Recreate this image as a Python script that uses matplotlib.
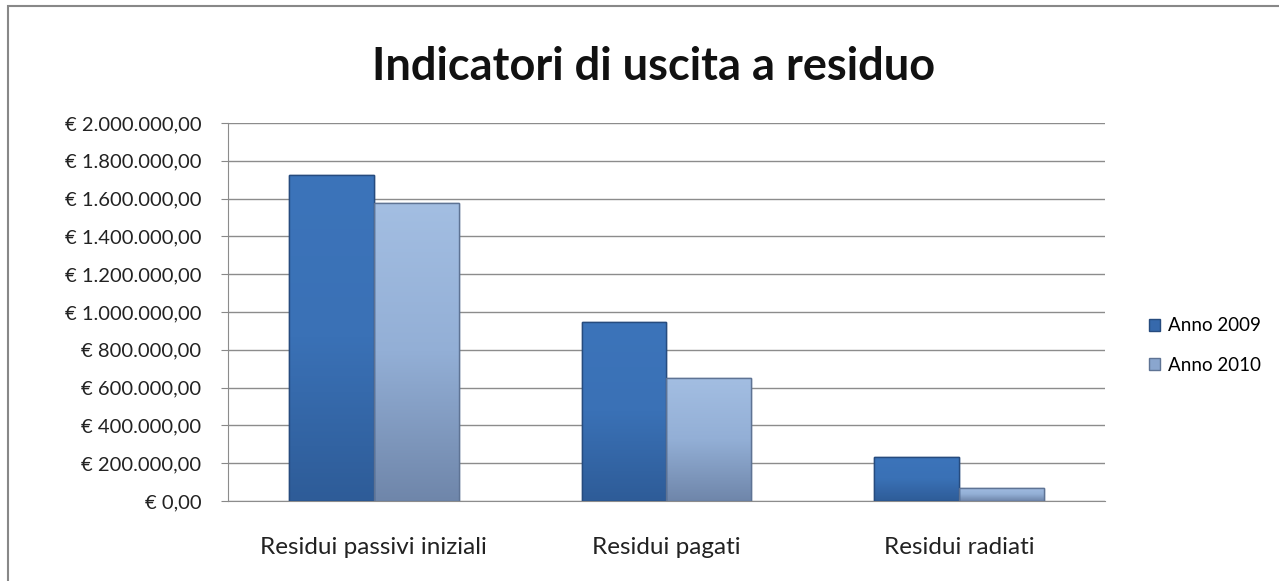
import numpy as np
import matplotlib
matplotlib.use("Agg")
import matplotlib.pyplot as plt
from matplotlib.patches import Rectangle
from matplotlib.colors import LinearSegmentedColormap

# dati
categorie = ['Residui passivi iniziali', 'Residui pagati', 'Residui radiati']
anno_2009 = [1725000, 947000, 233000]
anno_2010 = [1577000, 651000, 69000]
serie = ['Anno 2009', 'Anno 2010']

plt.rcParams['font.family'] = ['Lato', 'DejaVu Sans']

fig = plt.figure(figsize=(12.79, 5.81), dpi=100)
ax = fig.add_axes([0.178, 0.1377, 0.686, 0.6506])

x = np.arange(len(categorie))
w = 0.29
b1 = ax.bar(x - w / 2, anno_2009, w, color='#3669AC', edgecolor='#264B7E', linewidth=1.0, label=serie[0], zorder=3)
b2 = ax.bar(x + w / 2, anno_2010, w, color='#8AA6CE', edgecolor='#5E7394', linewidth=1.0, label=serie[1], zorder=3)

# sfumatura verticale dentro le barre
cm1 = LinearSegmentedColormap.from_list('c1', ['#2E5C98', '#3A71B6', '#3C74BA'])
cm2 = LinearSegmentedColormap.from_list('c2', ['#6F86AA', '#93AFD6', '#A3BEE2'])
grad = np.linspace(0, 1, 256).reshape(-1, 1)
for bars, cm in [(b1, cm1), (b2, cm2)]:
    for r in bars:
        x0, y0 = r.get_x(), r.get_y()
        im = ax.imshow(grad, cmap=cm, origin='lower', aspect='auto',
                       extent=[x0, x0 + r.get_width(), y0, y0 + r.get_height()], zorder=3.5)
        im.set_clip_path(r)
        ax.add_patch(Rectangle((x0, y0), r.get_width(), r.get_height(), fill=False,
                               edgecolor=r.get_edgecolor(), linewidth=1.0, zorder=4))

ax.set_xlim(-0.5, 2.5)
ax.set_ylim(0, 2000000)
ax.set_yticks(np.arange(0, 2000001, 200000))

def euro(v):
    s = f"{v:,.2f}".replace(',', 'X').replace('.', ',').replace('X', '.')
    return "€ " + s

ax.set_yticklabels([euro(v) for v in ax.get_yticks()], fontsize=14.5, color='#222222')
ax.set_xticks(x)
ax.set_xticklabels(categorie, fontsize=17.5, color='#222222')
ax.tick_params(axis='x', length=0, pad=26)
ax.tick_params(axis='y', length=5, color='#888888', pad=14)

ax.grid(axis='y', color='#8C8C8C', linewidth=1.0, zorder=0)
for s in ['top', 'right']:
    ax.spines[s].set_visible(False)
ax.spines['left'].set_color('#8C8C8C')
ax.spines['bottom'].set_color('#8C8C8C')

fig.text(0.511, 0.885, 'Indicatori di uscita a residuo', ha='center', va='center',
         fontsize=32.5, fontweight='bold', color='#111111')

leg = fig.legend(handles=[b1, b2], labels=serie, loc='center left',
                 bbox_to_anchor=(0.885, 0.405), frameon=False, fontsize=13.5,
                 handlelength=0.6, handleheight=0.6, handletextpad=0.4, labelspacing=1.2)

fig.patches.append(Rectangle((0.006, -0.01), 1.1, 1.0, transform=fig.transFigure,
                             fill=False, edgecolor='#888888', linewidth=1.5))

fig.savefig('out.png', dpi=100)
